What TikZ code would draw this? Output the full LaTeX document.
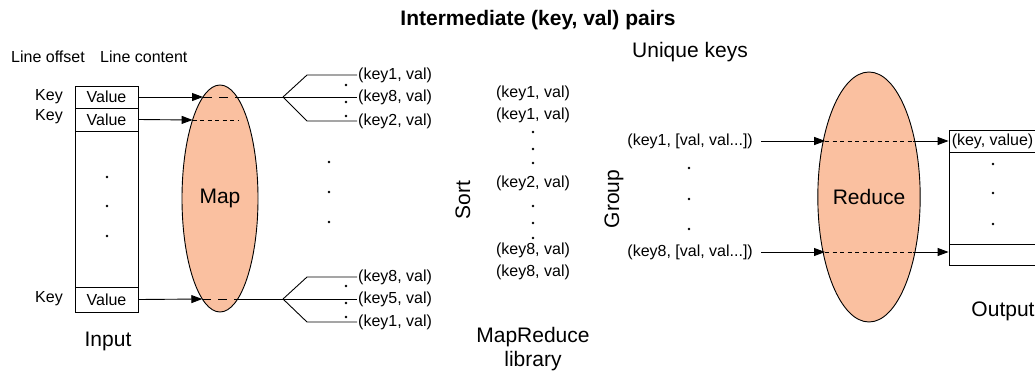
\documentclass[tikz,border=0pt]{standalone}
\usepackage{fontspec}
\setmainfont{Liberation Sans}
\usetikzlibrary{arrows.meta,shapes.geometric}
\definecolor{peach}{RGB}{250,192,160}

\begin{document}
\begin{tikzpicture}[x=1pt,y=-1pt,
  lbl/.style={font=\fontsize{16}{18}\selectfont, inner sep=1pt},
  big/.style={font=\fontsize{21}{24}\selectfont, inner sep=1pt},
  cell/.style={draw, line width=0.9pt, minimum width=63pt, inner sep=0pt, font=\fontsize{16}{18}\selectfont},
  blob/.style={ellipse, draw, line width=0.9pt, fill=peach, inner sep=0pt, font=\fontsize{21}{24}\selectfont},
  arr/.style={-{Triangle[length=11pt,width=8pt]}, line width=0.9pt},
  ln/.style={line width=0.9pt},
  pip/.style={circle, fill, inner sep=0pt, minimum size=2.8pt}]
  \useasboundingbox (0,0) rectangle (1035,375);
  \clip (0,0) rectangle (1035,375);

  % titles
  \node[big, font=\bfseries\fontsize{21}{24}\selectfont] (title) at (538,20) {Intermediate (key, val) pairs};
  \node[big] (uniq) at (690,52) {Unique keys};
  \node[lbl, anchor=west] (offs) at (10,57) {Line offset};
  \node[lbl, anchor=west] (cont) at (99,57) {Line content};

  % input file
  \node[cell, minimum height=22pt] (v1) at (106.5,97) {Value};
  \node[cell, minimum height=23pt] (v2) at (106.5,119.5) {};
  \node[lbl] at (v2) {Value};
  \node[cell, minimum height=156pt] (vbody) at (106.5,209) {};
  \node[cell, minimum height=25pt] (v3) at (106.5,299.5) {Value};
  \node[lbl, anchor=east] (k1) at (64,97) {Key};
  \node[lbl, anchor=east] (k2) at (64,117) {Key};
  \node[lbl, anchor=east] (k3) at (64,299) {Key};
  \foreach \y in {177,206,236}
    \node[pip] at (107,\y) {};
  \node[big] (input) at (108,341) {Input};

  % map
  \node[blob, minimum width=76pt, minimum height=227pt] (map) at (220,198.5) {Map};
  \coordinate (m1l) at (203,97);   \coordinate (m1r) at (237,97);
  \coordinate (m2l) at (192.6,120); \coordinate (m2r) at (238,120);
  \coordinate (m3l) at (202.3,299); \coordinate (m3r) at (237.7,299);
  \coordinate (fa) at (283,97);
  \coordinate (fb) at (283,299);
  \draw[arr] (v1.east) -- (m1l);
  \draw[arr] (v2.east) -- (m2l);
  \draw[arr] (v3.east) -- (m3l);
  \draw[ln, dash pattern=on 9pt off 7pt] (m1l) -- (m1r);
  \draw[ln, dash pattern=on 4pt off 3.5pt] (m2l) -- (m2r);
  \draw[ln, dash pattern=on 9pt off 7pt] (m3l) -- (m3r);
  \draw[ln] (m1r) -- (fa);
  \draw[ln] (m3r) -- (fb);

  % map output
  \node[lbl, anchor=west] (a1) at (357,75) {(key1, val)};
  \node[lbl, anchor=west] (a2) at (357,97) {(key8, val)};
  \node[lbl, anchor=west] (a3) at (357,121) {(key2, val)};
  \node[lbl, anchor=west] (b1) at (357,277) {(key8, val)};
  \node[lbl, anchor=west] (b2) at (357,299) {(key5, val)};
  \node[lbl, anchor=west] (b3) at (357,322) {(key1, val)};
  \draw[ln] (fa) -- ++(24,-22) -- (a1.west);
  \draw[ln] (fa) -- (a2.west);
  \draw[ln] (fa) -- ++(24,24) -- (a3.west);
  \draw[ln] (fb) -- ++(24,-22) -- (b1.west);
  \draw[ln] (fb) -- (b2.west);
  \draw[ln] (fb) -- ++(24,23) -- (b3.west);
  \foreach \y in {85,102,116,286,303,317}
    \node[pip] at (346,\y) {};
  \foreach \y in {162,192,222}
    \node[pip] at (329,\y) {};

  % sort
  \node[big, rotate=90] (sort) at (463,200) {Sort};
  \node[lbl] (s1) at (533,93) {(key1, val)};
  \node[lbl] (s2) at (533,115) {(key1, val)};
  \node[lbl] (s3) at (533,183) {(key2, val)};
  \node[lbl] (s4) at (533,250) {(key8, val)};
  \node[lbl] (s5) at (533,272) {(key8, val)};
  \foreach \y in {132,149,163,206,223,238}
    \node[pip] at (533,\y) {};
  \node[big, align=center] (lib) at (533,349) {MapReduce\\library};

  % group
  \node[big, rotate=90] (group) at (614,199) {Group};
  \node[lbl, anchor=east] (g1) at (754,141) {(key1, [val, val...])};
  \node[lbl, anchor=east] (g2) at (754,252) {(key8, [val, val...])};
  \foreach \y in {168,199,229}
    \node[pip] at (689,\y) {};

  % reduce
  \node[blob, minimum width=98pt, minimum height=250pt] (red) at (869,197) {Reduce};
  \coordinate (r1l) at (825.2,141); \coordinate (r1r) at (912.8,141);
  \coordinate (r2l) at (825,252);   \coordinate (r2r) at (913,252);
  \draw[arr, shorten <=7pt] (g1.east) -- (r1l);
  \draw[arr, shorten <=7pt] (g2.east) -- (r2l);
  \draw[ln, dash pattern=on 4pt off 3.5pt] (r1l) -- (r1r);
  \draw[ln, dash pattern=on 4pt off 3.5pt] (r2l) -- (r2r);

  % output file
  \node[cell, minimum width=92pt, minimum height=22pt] (o1) at (995,141) {};
  \node[cell, minimum width=92pt, minimum height=92pt] (o2) at (995,198) {};
  \node[cell, minimum width=92pt, minimum height=21pt] (o3) at (995,254.5) {};
  \node[lbl, anchor=west] (okv) at ([xshift=2pt]o1.west) {(key, value)};
  \foreach \y in {164,193,224}
    \node[pip] at (993,\y) {};
  \draw[arr] (r1r) -- (o1.west);
  \draw[arr] (r2r) -- (o1.west |- r2r);
  \node[big] (out) at (1003,311) {Output};
\end{tikzpicture}
\end{document}
